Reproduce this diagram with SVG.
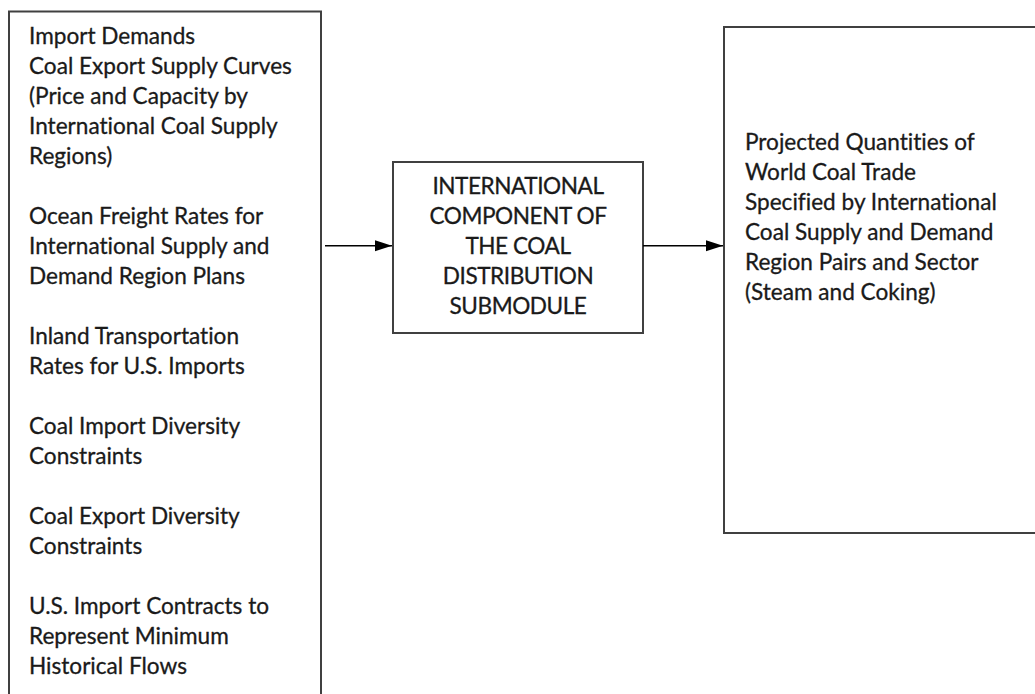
<svg xmlns="http://www.w3.org/2000/svg" width="1035" height="694" viewBox="0 0 1035 694">
  <style>
    .box { fill: #ffffff; stroke: #404040; stroke-width: 2; }
    .t { font-family: Lato, "Open Sans", "Liberation Sans", sans-serif; font-size: 22.6px; fill: #1a1a1a; stroke: #1a1a1a; stroke-width: 0.3px; font-variant-ligatures: none; font-feature-settings: "liga" 0, "dlig" 0; }
    .c { text-anchor: middle; letter-spacing: -0.45px; }
    .conn { stroke: #000000; stroke-width: 1.6; fill: none; }
  </style>
  <defs>
    <marker id="arrow" markerUnits="userSpaceOnUse" markerWidth="18" markerHeight="12" refX="17" refY="6" orient="auto">
      <path d="M0,0.5 L17,6 L0,11.5 Z" fill="#000000"/>
    </marker>
  </defs>
  <rect width="1035" height="694" fill="#ffffff"/>

  <g id="inputs">
    <rect class="box" x="9" y="11.5" width="312" height="720"/>
    <text class="t" x="29" y="44">Import Demands</text>
    <text class="t" x="29" y="74">Coal Export Supply Curves</text>
    <text class="t" x="29" y="104">(Price and Capacity by</text>
    <text class="t" x="29" y="134">International Coal Supply</text>
    <text class="t" x="29" y="164">Regions)</text>
    <text class="t" x="29" y="224">Ocean Freight Rates for</text>
    <text class="t" x="29" y="254">International Supply and</text>
    <text class="t" x="29" y="284">Demand Region Plans</text>
    <text class="t" x="29" y="344">Inland Transportation</text>
    <text class="t" x="29" y="374">Rates for U.S. Imports</text>
    <text class="t" x="29" y="434">Coal Import Diversity</text>
    <text class="t" x="29" y="464">Constraints</text>
    <text class="t" x="29" y="524">Coal Export Diversity</text>
    <text class="t" x="29" y="554">Constraints</text>
    <text class="t" x="29" y="614">U.S. Import Contracts to</text>
    <text class="t" x="29" y="644">Represent Minimum</text>
    <text class="t" x="29" y="674">Historical Flows</text>
  </g>

  <g id="submodule">
    <rect class="box" x="393" y="162" width="250" height="171"/>
    <text class="t c" x="518" y="194">INTERNATIONAL</text>
    <text class="t c" x="518" y="224">COMPONENT OF</text>
    <text class="t c" x="518" y="254">THE COAL</text>
    <text class="t c" x="518" y="284">DISTRIBUTION</text>
    <text class="t c" x="518" y="314">SUBMODULE</text>
  </g>

  <g id="outputs">
    <rect class="box" x="724" y="27" width="330" height="506"/>
    <text class="t" x="745" y="150">Projected Quantities of</text>
    <text class="t" x="745" y="180">World Coal Trade</text>
    <text class="t" x="745" y="210">Specified by International</text>
    <text class="t" x="745" y="240">Coal Supply and Demand</text>
    <text class="t" x="745" y="270">Region Pairs and Sector</text>
    <text class="t" x="745" y="300">(Steam and Coking)</text>
  </g>

  <g id="connectors">
    <line class="conn" x1="325" y1="245.7" x2="392" y2="245.7" marker-end="url(#arrow)"/>
    <line class="conn" x1="643" y1="245.7" x2="723" y2="245.7" marker-end="url(#arrow)"/>
  </g>
</svg>
